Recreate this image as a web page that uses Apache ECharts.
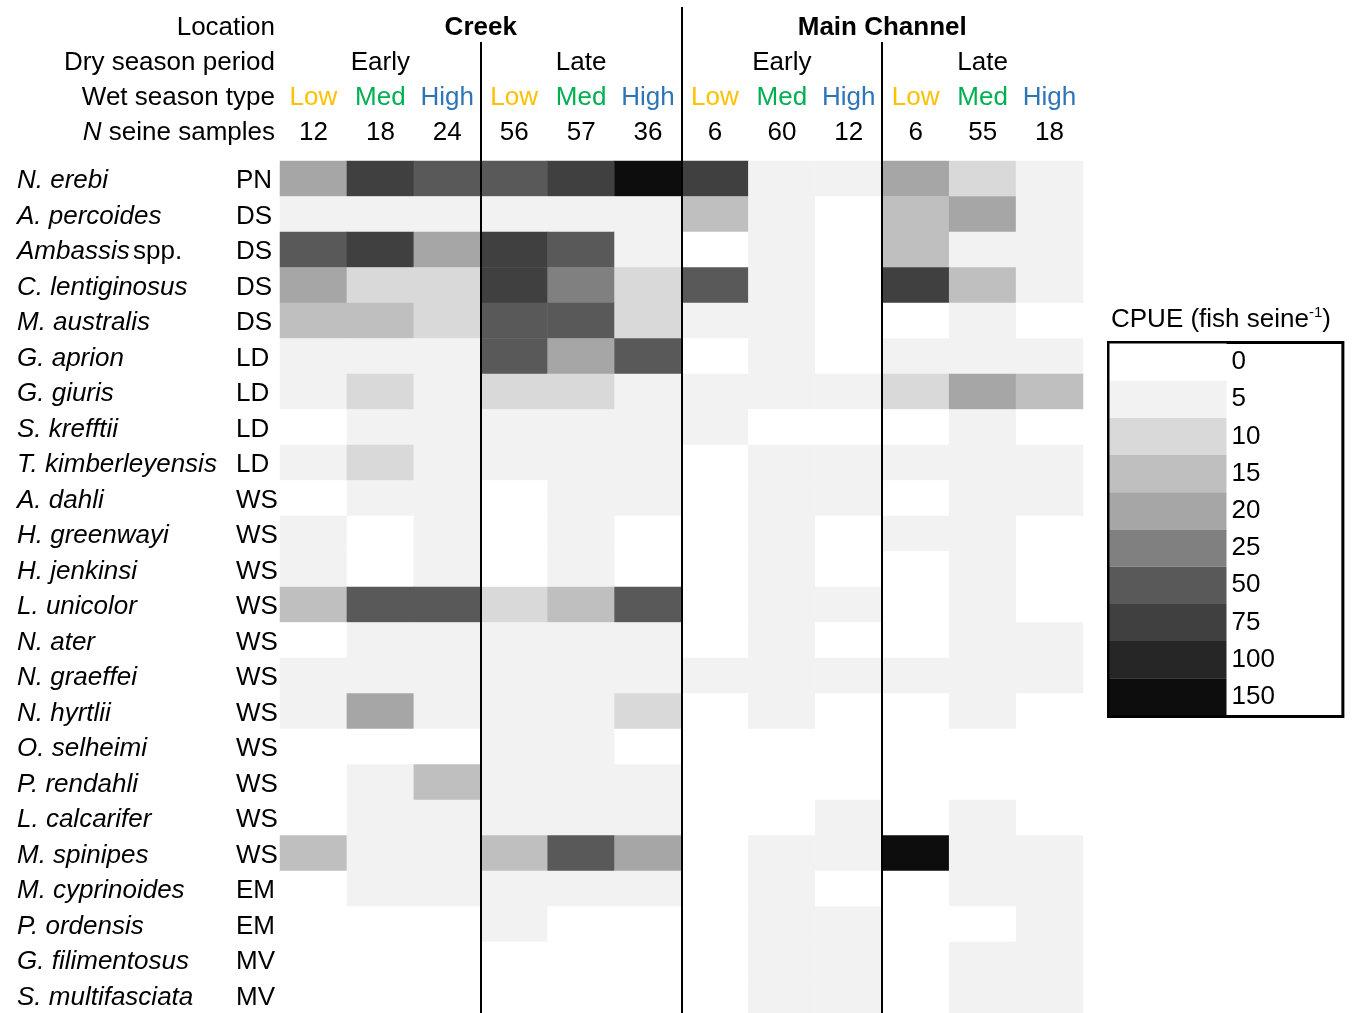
<!DOCTYPE html>
<html>
<head>
<meta charset="utf-8">
<title>CPUE heatmap</title>
<script src="https://cdn.jsdelivr.net/npm/echarts@6/dist/echarts.min.js"></script>
<style>
  html, body { margin: 0; padding: 0; background: #fff; }
  #chart { width: 1357px; height: 1013px; }
</style>
</head>
<body>
<div id="chart"></div>
<script>
// header rows
const locations = ['Creek', 'Main Channel'];
const dryPeriods = ['Early', 'Late', 'Early', 'Late'];
const wetTypes = ['Low', 'Med', 'High', 'Low', 'Med', 'High', 'Low', 'Med', 'High', 'Low', 'Med', 'High'];
const seineSamples = ['12', '18', '24', '56', '57', '36', '6', '60', '12', '6', '55', '18'];

// rows
const species = ['N. erebi', 'A. percoides', 'Ambassis spp.', 'C. lentiginosus', 'M. australis', 'G. aprion',
  'G. giuris', 'S. krefftii', 'T. kimberleyensis', 'A. dahli', 'H. greenwayi', 'H. jenkinsi', 'L. unicolor',
  'N. ater', 'N. graeffei', 'N. hyrtlii', 'O. selheimi', 'P. rendahli', 'L. calcarifer', 'M. spinipes',
  'M. cyprinoides', 'P. ordensis', 'G. filimentosus', 'S. multifasciata'];
const guilds = ['PN', 'DS', 'DS', 'DS', 'DS', 'LD', 'LD', 'LD', 'LD', 'WS', 'WS', 'WS', 'WS',
  'WS', 'WS', 'WS', 'WS', 'WS', 'WS', 'WS', 'EM', 'EM', 'MV', 'MV'];

// CPUE (fish per seine), one row per species, 12 columns
const cpue = [
  [18, 65, 40, 40, 65, 130, 65, 3, 3, 18, 8, 3],
  [3, 3, 3, 3, 3, 3, 13, 3, 0, 13, 18, 3],
  [40, 65, 18, 65, 40, 3, 0, 3, 0, 13, 3, 3],
  [18, 8, 8, 65, 23, 8, 40, 3, 0, 65, 13, 3],
  [13, 13, 8, 40, 40, 8, 3, 3, 0, 0, 3, 0],
  [3, 3, 3, 40, 18, 40, 0, 3, 0, 3, 3, 3],
  [3, 8, 3, 8, 8, 3, 3, 3, 3, 8, 18, 13],
  [0, 3, 3, 3, 3, 3, 3, 0, 0, 0, 3, 0],
  [3, 8, 3, 3, 3, 3, 0, 3, 3, 3, 3, 3],
  [0, 3, 3, 0, 3, 3, 0, 3, 3, 0, 3, 3],
  [3, 0, 3, 0, 3, 0, 0, 3, 0, 3, 3, 0],
  [3, 0, 3, 0, 3, 0, 0, 3, 0, 0, 3, 0],
  [13, 40, 40, 8, 13, 40, 0, 3, 3, 0, 3, 0],
  [0, 3, 3, 3, 3, 3, 0, 3, 0, 0, 3, 3],
  [3, 3, 3, 3, 3, 3, 3, 3, 3, 3, 3, 3],
  [3, 18, 3, 3, 3, 8, 0, 3, 0, 0, 3, 0],
  [0, 0, 0, 3, 3, 0, 0, 0, 0, 0, 0, 0],
  [0, 3, 13, 3, 3, 3, 0, 0, 0, 0, 0, 0],
  [0, 3, 3, 3, 3, 3, 0, 0, 3, 0, 3, 0],
  [13, 3, 3, 13, 40, 18, 0, 3, 3, 130, 3, 3],
  [0, 3, 3, 3, 3, 3, 0, 3, 0, 0, 3, 3],
  [0, 0, 0, 3, 0, 0, 0, 3, 3, 0, 0, 3],
  [0, 0, 0, 0, 0, 0, 0, 3, 3, 0, 3, 3],
  [0, 0, 0, 0, 0, 0, 0, 3, 3, 0, 3, 3]
];

// legend bins
const binEdges = [0, 5, 10, 15, 20, 25, 50, 75, 100, 150];
const binColors = ['#ffffff', '#f2f2f2', '#d9d9d9', '#bfbfbf', '#a6a6a6', '#808080',
  '#595959', '#404040', '#262626', '#0d0d0d'];

const FONT = '"Liberation Sans", Arial, sans-serif';
const FS = 26;
const wetColors = { Low: '#ffc000', Med: '#00b050', High: '#2e75b6' };

const heatData = [];
cpue.forEach((row, r) => row.forEach((v, c) => heatData.push([c, r, v])));

const pieces = binEdges.map((edge, i) => {
  if (i === 0) return { value: 0, label: String(edge), color: binColors[i] };
  return { gt: binEdges[i - 1], lte: edge, label: String(edge), color: binColors[i] };
});

const gridTop = 161;
const chart = echarts.init(document.getElementById('chart'));

const headerAxis = (data, offset, name, extra) => Object.assign({
  type: 'category',
  position: 'top',
  gridIndex: 0,
  data: data,
  offset: offset,
  name: name,
  nameLocation: 'start',
  nameGap: 5,
  nameTextStyle: { color: '#000', fontSize: FS, fontFamily: FONT, align: 'right', verticalAlign: 'middle' },
  axisLine: { show: false },
  axisTick: { show: false },
  splitLine: { show: false },
  axisLabel: { interval: 0, margin: 0, verticalAlign: 'middle', color: '#000', fontSize: FS, fontFamily: FONT }
}, extra || {});

const rowLabelRich = {
  i: { fontStyle: 'italic', fontSize: FS, fontFamily: FONT, color: '#000' },
  n: { fontSize: FS, fontFamily: FONT, color: '#000' }
};

const option = {
  animation: false,
  backgroundColor: '#fff',
  title: {
    left: 1111,
    top: 305,
    padding: 0,
    text: '{a|CPUE (fish seine}{s|-1}{a|)}',
    textStyle: {
      rich: {
        a: { fontSize: FS, fontFamily: FONT, fontWeight: 'normal', color: '#000', lineHeight: 30 },
        s: { fontSize: 15, fontFamily: FONT, fontWeight: 'normal', color: '#000', lineHeight: 14, verticalAlign: 'top' }
      }
    }
  },
  grid: { left: 280, top: gridTop, width: 803, height: 852 },
  xAxis: [
    headerAxis(wetTypes, 63, 'Wet season type', {
      axisLabel: {
        interval: 0, margin: 0, verticalAlign: 'middle', fontSize: FS, fontFamily: FONT,
        color: (v) => wetColors[v]
      }
    }),
    headerAxis(seineSamples, 28, '{i|N} seine samples', {
      nameTextStyle: {
        color: '#000', fontSize: FS, fontFamily: FONT, align: 'right', verticalAlign: 'middle',
        rich: {
          i: { fontStyle: 'italic', fontSize: FS, fontFamily: FONT, color: '#000' }
        }
      }
    }),
    headerAxis(dryPeriods, 98, 'Dry season period'),
    headerAxis(locations, 133, 'Location', {
      axisLabel: { interval: 0, margin: 0, verticalAlign: 'middle', color: '#000', fontSize: FS, fontFamily: FONT, fontWeight: 'bold' }
    })
  ],
  yAxis: [
    {
      type: 'category',
      data: species,
      inverse: true,
      axisLine: { show: false },
      axisTick: { show: false },
      splitLine: { show: false },
      axisLabel: {
        interval: 0,
        margin: 263,
        align: 'left',
        padding: [5, 0, 0, 0],
        formatter: (v) => v.endsWith(' spp.') ? '{i|' + v.replace(' spp.', '') + '} {n|spp.}' : '{i|' + v + '}',
        rich: rowLabelRich
      }
    },
    {
      type: 'category',
      data: guilds,
      inverse: true,
      position: 'left',
      axisLine: { show: false },
      axisTick: { show: false },
      splitLine: { show: false },
      axisLabel: {
        interval: 0,
        margin: 44,
        align: 'left',
        padding: [5, 0, 0, 0],
        formatter: (v) => '{n|' + v + '}',
        rich: rowLabelRich
      }
    }
  ],
  visualMap: {
    type: 'piecewise',
    seriesIndex: 0,
    dimension: 2,
    orient: 'vertical',
    inverse: true,
    align: 'left',
    left: 1107,
    top: 341,
    pieces: pieces,
    itemSymbol: 'rect',
    itemWidth: 117,
    itemHeight: 37.2,
    itemGap: 0,
    textGap: 5,
    padding: [1, 68, 1, 1],
    borderColor: '#000',
    borderWidth: 3,
    backgroundColor: '#fff',
    hoverLink: false,
    selectedMode: false,
    textStyle: { color: '#000', fontSize: FS, fontFamily: FONT }
  },
  series: [
    {
      type: 'heatmap',
      xAxisIndex: 0,
      yAxisIndex: 0,
      data: heatData,
      itemStyle: { borderWidth: 0 },
      emphasis: { disabled: true }
    }
  ]
};

chart.setOption(option);

// separators between the dry season groups, extended into the header
const colX = (i) => chart.convertToPixel({ xAxisIndex: 0 }, i);
const separators = [[2, 42], [5, 7], [8, 42]];
chart.setOption({
  graphic: separators.map(([after, top]) => {
    const x = Math.round((colX(after) + colX(after + 1)) / 2);
    return {
      type: 'line',
      z: 100,
      shape: { x1: x, y1: top, x2: x, y2: 1013 },
      style: { stroke: '#000', lineWidth: 2 }
    };
  })
});
</script>
</body>
</html>
